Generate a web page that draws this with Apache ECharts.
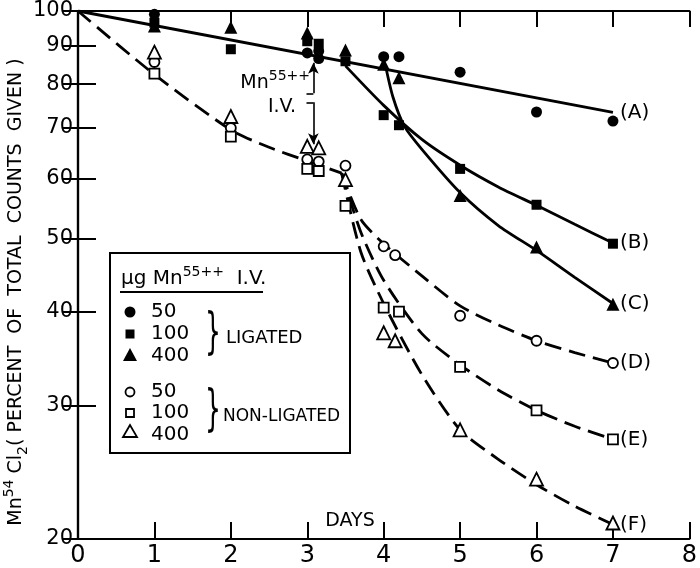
<!DOCTYPE html>
<html><head><meta charset="utf-8">
<script src="https://cdn.jsdelivr.net/npm/echarts@6/dist/echarts.min.js"></script>
<style>html,body{margin:0;padding:0;background:#fff}#c{width:700px;height:568px}</style>
</head><body><div id="c"></div>
<script>
// ---- tick labels ----
const xTicks = [0,1,2,3,4,5,6,7,8];
const yTicks = [20,30,40,50,60,70,80,90,100];

// ---- measured points ----
const lig50  = [[1,99],[3,88],[3.15,86.5],[3.15,88.5],[4,87],[4.2,87],[5,83],[6,73.5],[7,71.5]];
const lig100 = [[1,96.5],[2,89],[3,91.2],[3.15,90.5],[3.5,85.8],[4,72.8],[4.2,70.6],[5,61.8],[6,55.4],[7,49.2]];
const lig400 = [[1,95.5],[2,95.2],[3,93.5],[3.5,88.8],[4,85],[4.2,81.6],[5,57],[6,48.7],[7,40.9]];
const non50  = [[1,85.6],[2,70],[3,63.6],[3.15,63.2],[3.5,62.4],[4,48.8],[4.15,47.5],[5,39.5],[6,36.6],[7,34.2]];
const non100 = [[1,82.6],[2,68.2],[3,61.8],[3.15,61.4],[3.5,55.2],[4,40.5],[4.2,40],[5,33.8],[6,29.6],[7,27.1]];
const non400 = [[1,88.2],[2,72.5],[3,66.2],[3.15,65.9],[3.5,59.8],[4,37.5],[4.15,36.6],[5,27.9],[6,24],[7,21]];

// ---- fitted curves ----
const curveA = [[0,100],[7,73.4]];
const curveB = [[3.5,84.6],[4,75],[4.5,67.6],[5,62.5],[5.5,58.5],[6,55.3],[6.5,52.2],[7,49.3]];
const curveC = [[4.02,85],[4.12,77],[4.27,70.4],[4.5,65.6],[5,57.5],[5.5,52],[6,48.2],[6.5,44.4],[7,41]];
const curveCommon = [[0,100],[1,82.4],[2,69.6],[2.5,66],[3,63.3],[3.45,61]];
const curveD = [[3.45,61],[3.7,53],[4,49.2],[4.5,44.6],[5,40.7],[5.5,38.4],[6,36.6],[6.5,35.3],[7,34.2]];
const curveE = [[3.45,61],[3.7,51],[4,44],[4.5,37.4],[5,34],[5.5,31.5],[6,29.6],[6.5,28.2],[7,27.1]];
const curveF = [[3.45,61],[3.7,48],[4,41],[4.5,33],[5,27.9],[5.5,25.5],[6,23.6],[6.5,22.1],[7,20.9]];

// annotation arrow (data coords)
const arrowX = 3.08, hookX = 2.99;
const arrowUp = [77.8, 85.4];
const arrowDown = [75.7, 66.6];

const FONT = 'DejaVu Sans';
const chart = echarts.init(document.getElementById('c'), null, {renderer:'canvas'});

function curve(name, data, label, dash){
  return {type:'line', name, data, showSymbol:false, smooth:0.25, silent:true, z:3,
    lineStyle:{color:'#000', width:2.8, type: dash ? [17,8] : 'solid'},
    endLabel:{show:!!label, formatter:label, fontFamily:FONT, fontSize:20, color:'#000', distance:7}};
}
function pts(name, data, symbol, size, filled){
  return {type:'scatter', name, data, symbol, symbolSize:size, z:5, silent:true,
    itemStyle: filled ? {color:'#000', opacity:1} : {color:'#fff', borderColor:'#000', borderWidth:1.8, opacity:1}};
}

const axisLineStyle = {color:'#000', width:2.2};
const option = {
  animation:false,
  backgroundColor:'#fff',
  grid:{left:78, right:6, top:11, bottom:25},
  xAxis:[
    {type:'value', min:0, max:8, interval:1, position:'bottom',
     axisLine:{show:true, lineStyle:axisLineStyle},
     axisTick:{show:true, inside:true, length:17, lineStyle:{color:'#000', width:2}},
     axisLabel:{show:true, margin:5, fontFamily:FONT, fontSize:24, color:'#000',
       formatter:v=> xTicks.includes(v) ? String(v) : ''},
     splitLine:{show:false}},
    {type:'value', min:0, max:8, interval:1, position:'top',
     axisLine:{show:true, lineStyle:axisLineStyle},
     axisTick:{show:true, inside:true, length:16, lineStyle:{color:'#000', width:2}},
     axisLabel:{show:false}, splitLine:{show:false}}
  ],
  yAxis:[
    {type:'log', min:20, max:100, logBase:10, position:'left',
     axisLine:{show:true, lineStyle:axisLineStyle},
     axisTick:{show:true, inside:true, length:18, customValues:yTicks, lineStyle:{color:'#000', width:2}},
     axisLabel:{show:true, margin:5, customValues:yTicks, fontFamily:FONT, fontSize:21, color:'#000'},
     minorTick:{show:false}, splitLine:{show:false}},
    {type:'log', min:20, max:100, logBase:10, position:'right',
     axisLine:{show:true, lineStyle:axisLineStyle},
     axisTick:{show:true, inside:true, length:16, customValues:yTicks, lineStyle:{color:'#000', width:2}},
     axisLabel:{show:false, customValues:yTicks}, splitLine:{show:false}}
  ],
  series:[
    curve('A', curveA, '(A)', false),
    curve('B', curveB, '(B)', false),
    curve('C', curveC, '(C)', false),
    curve('common', curveCommon, null, true),
    curve('D', curveD, '(D)', true),
    curve('E', curveE, '(E)', true),
    curve('F', curveF, '(F)', true),
    pts('lig50', lig50, 'circle', 11, true),
    pts('lig100', lig100, 'rect', 10, true),
    pts('lig400', lig400, 'triangle', 13, true),
    pts('non50', non50, 'circle', 10, false),
    pts('non100', non100, 'rect', 10, false),
    pts('non400', non400, 'triangle', 13, false),
    {type:'scatter', name:'arrow', data:[], silent:true,
     markLine:{silent:true, animation:false, symbol:['none','arrow'], symbolSize:[8,11],
       label:{show:false}, lineStyle:{color:'#000', width:1.6, type:'solid'},
       data:[
         [{coord:[arrowX, arrowUp[0]]},{coord:[arrowX, arrowUp[1]]}],
         [{coord:[arrowX, arrowDown[0]]},{coord:[arrowX, arrowDown[1]]}],
         [{coord:[hookX, arrowUp[0]], symbol:'none'},{coord:[arrowX, arrowUp[0]], symbol:'none'}],
         [{coord:[hookX, arrowDown[0]], symbol:'none'},{coord:[arrowX, arrowDown[0]], symbol:'none'}]
       ]}}
  ],
  graphic:[
    // y axis title
    {type:'text', x:16, y:292, rotation:Math.PI/2, z:100,
     style:{text:'{a|Mn}{sup|54}{a| Cl}{sub|2}{a|( PERCENT  OF  TOTAL  COUNTS  GIVEN )}',
       align:'center', verticalAlign:'middle', textAlign:'center', textVerticalAlign:'middle', fill:'#000',
       rich:{a:{fontFamily:FONT, fontSize:19, lineHeight:28, color:'#000'},
             sup:{fontFamily:FONT, fontSize:14, lineHeight:28, verticalAlign:'top', color:'#000'},
             sub:{fontFamily:FONT, fontSize:14, lineHeight:28, verticalAlign:'bottom', color:'#000'}}}},
    // DAYS
    {type:'text', x:350, y:521, z:100,
     style:{text:'DAYS', font:'19px "DejaVu Sans"', fill:'#000', align:'center', verticalAlign:'middle', textAlign:'center', textVerticalAlign:'middle'}},
    // annotation
    {type:'text', x:310, y:83, z:100,
     style:{text:'{a|Mn}{s|55++}', align:'right', verticalAlign:'middle', textAlign:'right', textVerticalAlign:'middle', fill:'#000',
       rich:{a:{fontFamily:FONT, fontSize:19, lineHeight:28}, s:{fontFamily:FONT, fontSize:14, lineHeight:28, verticalAlign:'top'}}}},
    {type:'text', x:282, y:107, z:100,
     style:{text:'I.V.', font:'19px "DejaVu Sans"', fill:'#000', align:'center', verticalAlign:'middle', textAlign:'center', textVerticalAlign:'middle'}},
    // legend box
    {type:'rect', z:90, shape:{x:110, y:253, width:240, height:200}, style:{fill:'#fff', stroke:'#000', lineWidth:2}},
    {type:'text', x:121, y:279, z:100,
     style:{text:'{a|μg Mn}{s|55++}{a|  I.V.}', align:'left', verticalAlign:'middle', textAlign:'left', textVerticalAlign:'middle', fill:'#000',
       rich:{a:{fontFamily:FONT, fontSize:20, lineHeight:28}, s:{fontFamily:FONT, fontSize:14, lineHeight:28, verticalAlign:'top'}}}},
    {type:'line', z:100, shape:{x1:120, y1:292, x2:263, y2:292}, style:{stroke:'#000', lineWidth:2}},
    {type:'circle', z:100, shape:{cx:130, cy:312, r:5.5}, style:{fill:'#000'}},
    {type:'rect', z:100, shape:{x:125.5, y:329.5, width:9, height:9}, style:{fill:'#000'}},
    {type:'polygon', z:100, shape:{points:[[130,348],[123,361],[137,361]]}, style:{fill:'#000'}},
    {type:'circle', z:100, shape:{cx:130, cy:392, r:4.5}, style:{fill:'#fff', stroke:'#000', lineWidth:1.8}},
    {type:'rect', z:100, shape:{x:126, y:409, width:8, height:8}, style:{fill:'#fff', stroke:'#000', lineWidth:1.8}},
    {type:'polygon', z:100, shape:{points:[[130,425],[123,437],[137,437]]}, style:{fill:'#fff', stroke:'#000', lineWidth:1.8}},
    {type:'text', x:151, y:312, z:100, style:{text:'50', font:'20px "DejaVu Sans"', fill:'#000', align:'left', verticalAlign:'middle', textAlign:'left', textVerticalAlign:'middle'}},
    {type:'text', x:151, y:334, z:100, style:{text:'100', font:'20px "DejaVu Sans"', fill:'#000', align:'left', verticalAlign:'middle', textAlign:'left', textVerticalAlign:'middle'}},
    {type:'text', x:151, y:356, z:100, style:{text:'400', font:'20px "DejaVu Sans"', fill:'#000', align:'left', verticalAlign:'middle', textAlign:'left', textVerticalAlign:'middle'}},
    {type:'text', x:151, y:392, z:100, style:{text:'50', font:'20px "DejaVu Sans"', fill:'#000', align:'left', verticalAlign:'middle', textAlign:'left', textVerticalAlign:'middle'}},
    {type:'text', x:151, y:413, z:100, style:{text:'100', font:'20px "DejaVu Sans"', fill:'#000', align:'left', verticalAlign:'middle', textAlign:'left', textVerticalAlign:'middle'}},
    {type:'text', x:151, y:435, z:100, style:{text:'400', font:'20px "DejaVu Sans"', fill:'#000', align:'left', verticalAlign:'middle', textAlign:'left', textVerticalAlign:'middle'}},
    {type:'text', x:213, y:335, z:100, scaleX:0.5, style:{text:'}', font:'50px "DejaVu Sans"', fill:'#000', align:'center', verticalAlign:'middle', textAlign:'center', textVerticalAlign:'middle'}},
    {type:'text', x:213, y:412, z:100, scaleX:0.5, style:{text:'}', font:'50px "DejaVu Sans"', fill:'#000', align:'center', verticalAlign:'middle', textAlign:'center', textVerticalAlign:'middle'}},
    {type:'text', x:226, y:338, z:100, style:{text:'LIGATED', font:'18px "DejaVu Sans"', fill:'#000', align:'left', verticalAlign:'middle', textAlign:'left', textVerticalAlign:'middle'}},
    {type:'text', x:223, y:417, z:100, style:{text:'NON-LIGATED', font:'17px "DejaVu Sans"', fill:'#000', align:'left', verticalAlign:'middle', textAlign:'left', textVerticalAlign:'middle'}}
  ]
};
chart.setOption(option);
</script>
</body></html>
